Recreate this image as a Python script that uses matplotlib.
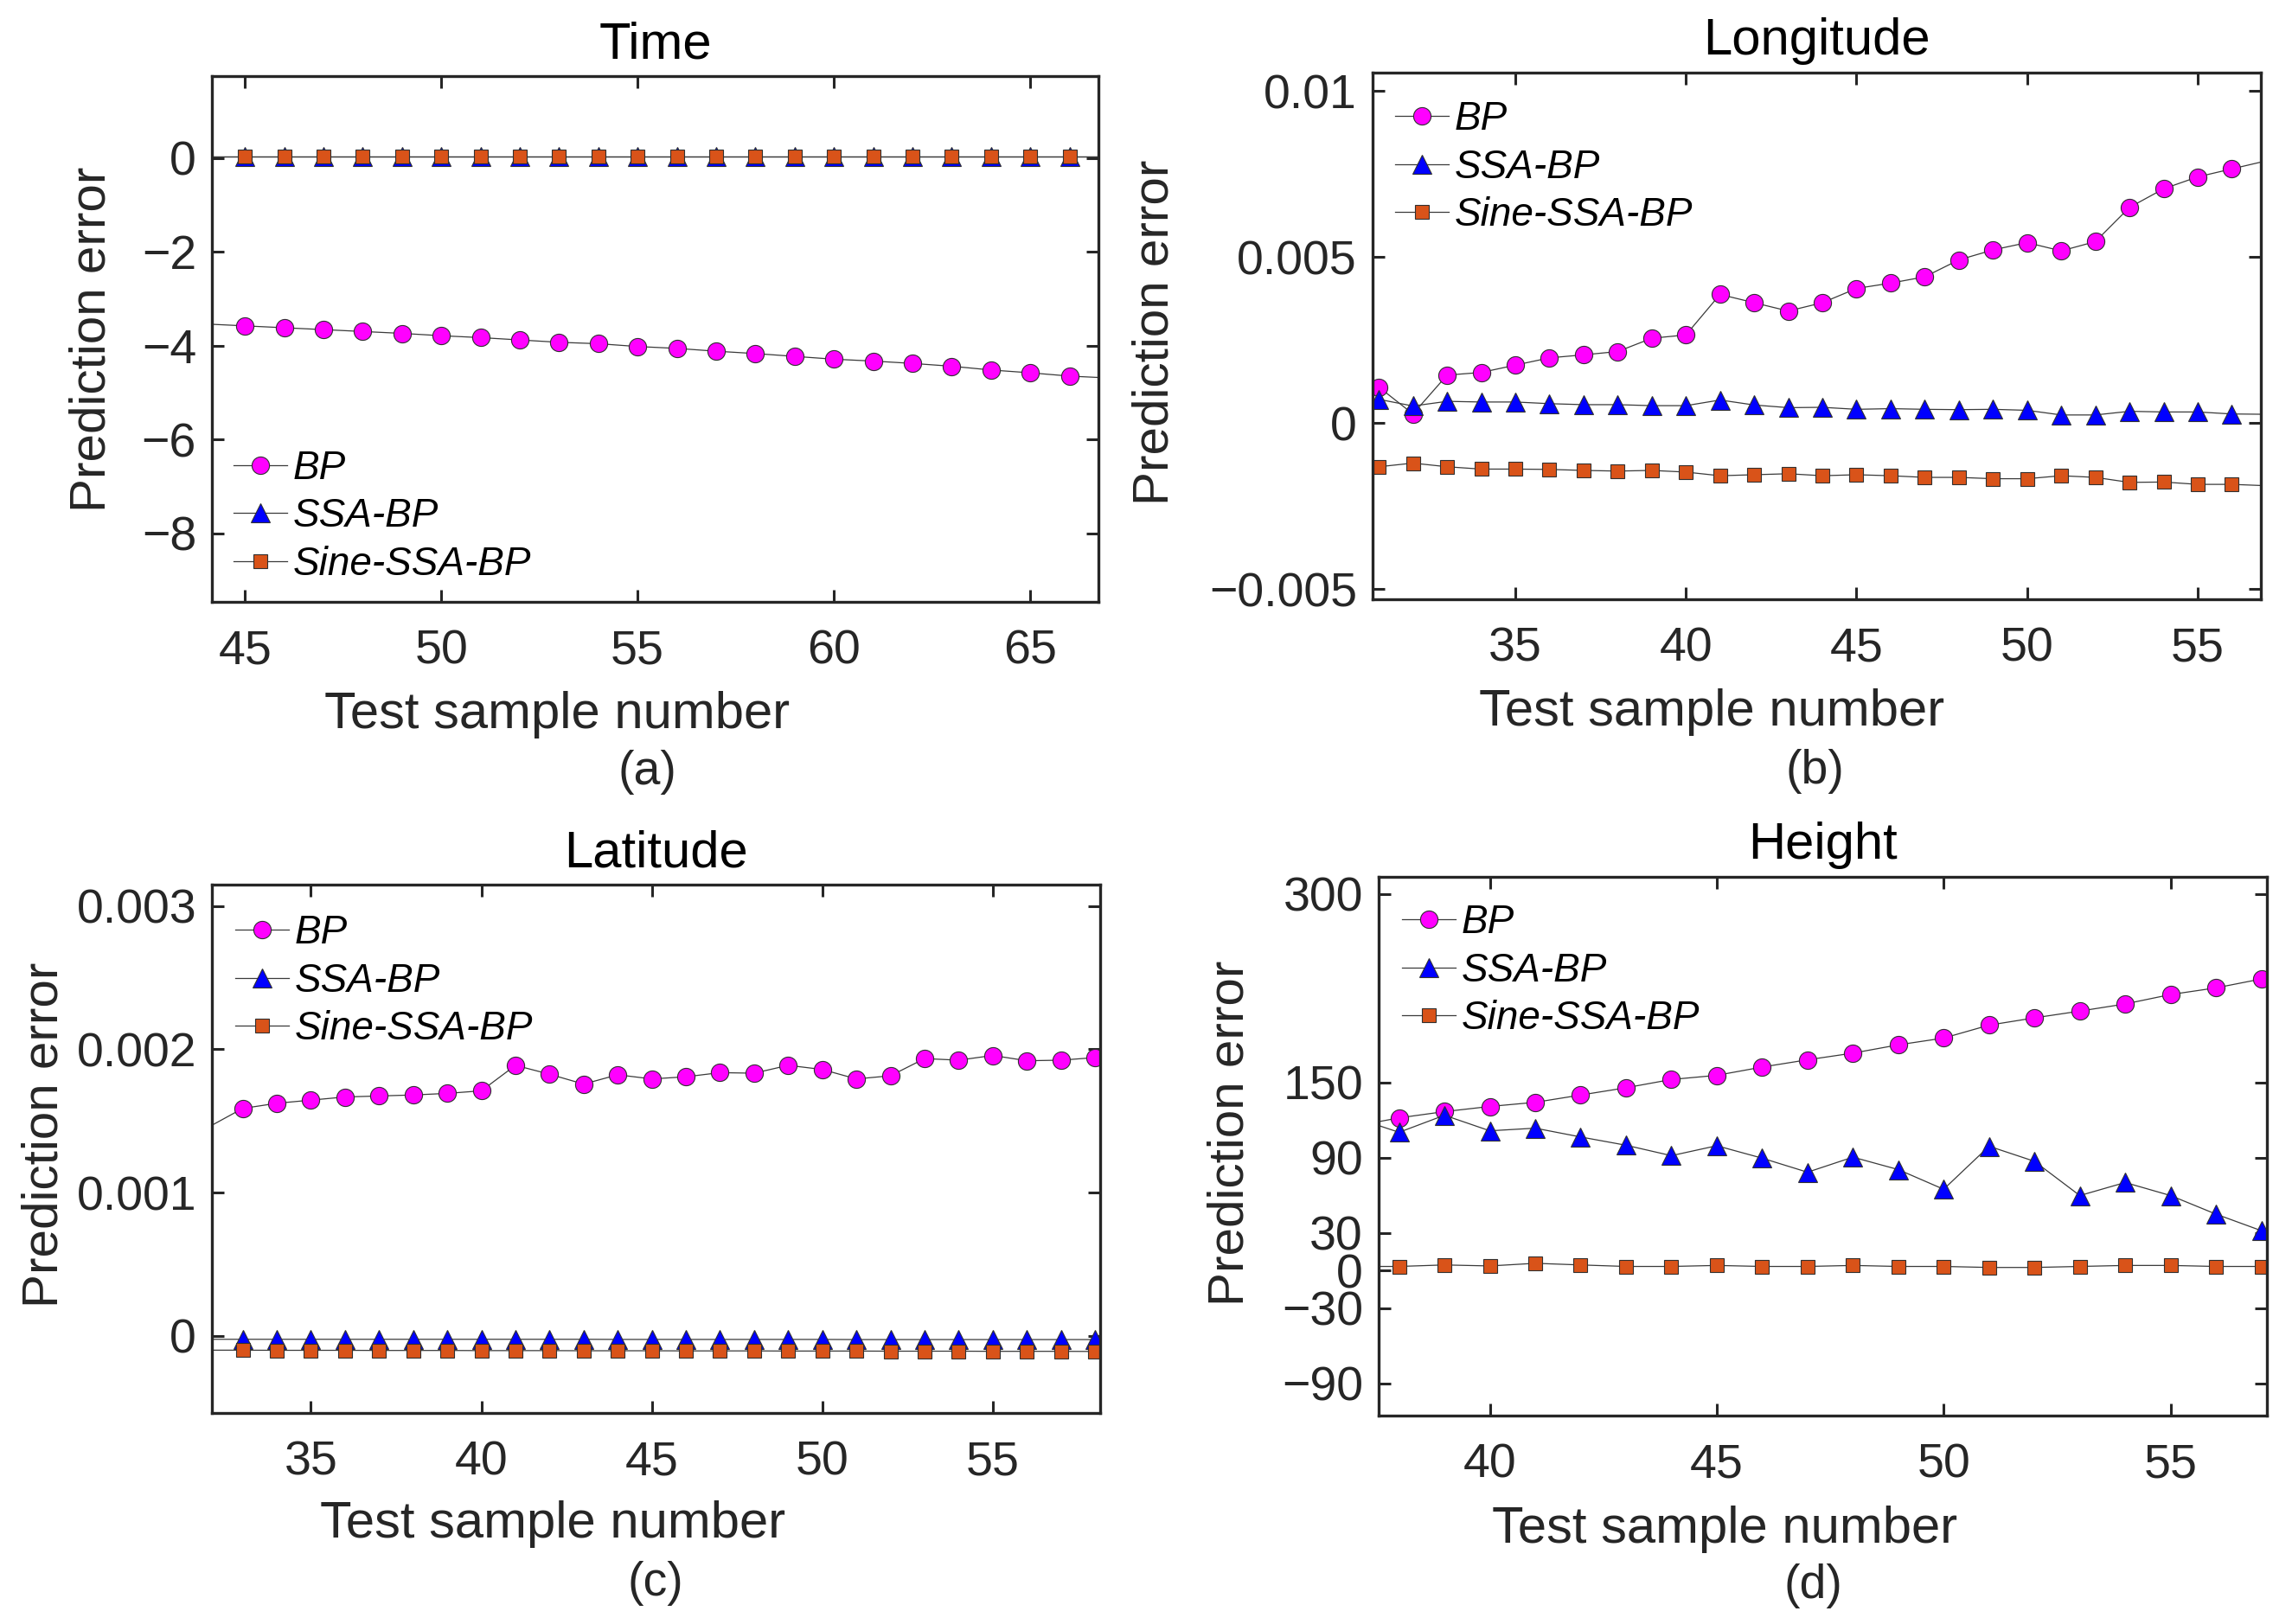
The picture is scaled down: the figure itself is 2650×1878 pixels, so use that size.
import numpy as np
import matplotlib
matplotlib.use("Agg")
import matplotlib.pyplot as plt

# ---- data ----
time_x = [44, 45, 46, 47, 48, 49, 50, 51, 52, 53, 54, 55, 56, 57, 58, 59, 60, 61, 62, 63, 64, 65, 66, 67]
time_bp = [-3.54, -3.58, -3.62, -3.66, -3.70, -3.74, -3.79, -3.83, -3.88, -3.93, -3.96, -4.02,
           -4.06, -4.12, -4.17, -4.23, -4.29, -4.33, -4.38, -4.44, -4.52, -4.58, -4.65, -4.69]
time_ssa = [0.03, 0.03, 0.03, 0.03, 0.03, 0.03, 0.03, 0.03, 0.03, 0.03, 0.03, 0.03,
            0.03, 0.03, 0.03, 0.03, 0.03, 0.03, 0.03, 0.03, 0.03, 0.03, 0.03, 0.03]
time_sine = [0.02, 0.02, 0.02, 0.02, 0.02, 0.02, 0.02, 0.02, 0.02, 0.02, 0.02, 0.02,
             0.02, 0.02, 0.02, 0.02, 0.02, 0.02, 0.02, 0.02, 0.02, 0.02, 0.02, 0.02]

lon_x = [31, 32, 33, 34, 35, 36, 37, 38, 39, 40, 41, 42, 43, 44, 45, 46, 47, 48, 49, 50,
         51, 52, 53, 54, 55, 56, 57]
lon_bp = [0.00109, 0.00028, 0.00145, 0.00153, 0.00175, 0.00197, 0.00206, 0.00216, 0.00256,
          0.00266, 0.00388, 0.00363, 0.00338, 0.00363, 0.00406, 0.00422, 0.00441, 0.00492,
          0.00522, 0.00544, 0.00519, 0.00547, 0.00650, 0.00706, 0.00742, 0.00766, 0.00790]
lon_ssa = [0.00072, 0.00052, 0.00066, 0.00064, 0.00064, 0.00059, 0.00056, 0.00056, 0.00053,
           0.00053, 0.00070, 0.00055, 0.00047, 0.00048, 0.00042, 0.00044, 0.00042, 0.00041,
           0.00042, 0.00039, 0.00025, 0.00025, 0.00036, 0.00034, 0.00034, 0.00028, 0.00027]
lon_sine = [-0.00131, -0.00120, -0.00131, -0.00138, -0.00138, -0.00139, -0.00142, -0.00144,
            -0.00142, -0.00147, -0.00158, -0.00155, -0.00152, -0.00158, -0.00155, -0.00158,
            -0.00163, -0.00163, -0.00167, -0.00167, -0.00158, -0.00163, -0.00178, -0.00177,
            -0.00184, -0.00184, -0.00188]

lat_x = [32, 33, 34, 35, 36, 37, 38, 39, 40, 41, 42, 43, 44, 45, 46, 47, 48, 49, 50, 51,
         52, 53, 54, 55, 56, 57, 58]
lat_bp = [0.001457, 0.001587, 0.001623, 0.001645, 0.001667, 0.001674, 0.001681, 0.001692,
          0.001710, 0.001888, 0.001826, 0.001757, 0.001822, 0.001793, 0.001808, 0.001837,
          0.001833, 0.001888, 0.001859, 0.001793, 0.001815, 0.001935, 0.001924, 0.001957,
          0.001920, 0.001924, 0.001942]
lat_ssa = [-0.000025, -0.000025, -0.000025, -0.000025, -0.000025, -0.000025, -0.000025,
           -0.000025, -0.000025, -0.000025, -0.000025, -0.000025, -0.000026, -0.000026,
           -0.000026, -0.000026, -0.000026, -0.000026, -0.000026, -0.000027, -0.000027,
           -0.000027, -0.000027, -0.000027, -0.000027, -0.000027, -0.000027]
lat_sine = [-0.000101, -0.000101, -0.000102, -0.000102, -0.000102, -0.000103, -0.000103,
            -0.000103, -0.000104, -0.000104, -0.000104, -0.000105, -0.000105, -0.000105,
            -0.000106, -0.000106, -0.000106, -0.000107, -0.000107, -0.000107, -0.000108,
            -0.000108, -0.000108, -0.000109, -0.000109, -0.000109, -0.000110]

h_x = [37, 38, 39, 40, 41, 42, 43, 44, 45, 46, 47, 48, 49, 50, 51, 52, 53, 54, 55, 56, 57]
h_bp = [115.0, 121.7, 126.7, 130.8, 134.1, 139.9, 145.7, 152.3, 155.6, 162.2, 168.0, 173.3,
        179.9, 185.3, 195.6, 201.4, 206.8, 212.5, 220.0, 225.3, 232.4]
h_ssa = [122.2, 110.2, 123.8, 111.4, 113.5, 106.5, 99.9, 91.6, 99.5, 89.6, 78.4, 90.4,
         80.5, 64.8, 99.1, 87.1, 59.8, 70.2, 59.8, 45.0, 31.8]
h_sine = [3.3, 3.3, 4.5, 3.7, 5.8, 4.5, 3.3, 3.3, 4.1, 3.3, 3.3, 4.1, 3.3, 3.3, 2.5, 2.5,
          3.3, 4.1, 4.1, 3.3, 3.3]

labels = ['BP', 'SSA-BP', 'Sine-SSA-BP']
titles = ['Time', 'Longitude', 'Latitude', 'Height']
captions = ['(a)', '(b)', '(c)', '(d)']

plt.rcParams['font.family'] = ['Liberation Sans', 'DejaVu Sans']
plt.rcParams['axes.unicode_minus'] = True

fig = plt.figure(figsize=(26.5, 18.78), dpi=100)

dark = '#262626'
line_col = '#3a3a3a'
edge_col = '#303030'

panels = [
    dict(rect=[0.0925, 0.6294, 0.3868, 0.3237], x=time_x, ys=[time_bp, time_ssa, time_sine],
         mk=slice(1, 23), xlim=(44.16, 66.74), ylim=(-9.46, 1.74),
         yticks=[-8, -6, -4, -2, 0], yticklabels=['\u22128', '\u22126', '\u22124', '\u22122', '0'],
         xticks=[45, 50, 55, 60, 65], leg=(0.0244, 0.29), ylab=(-0.109, 0.5), xlab=(0.389, -0.169)),
    dict(rect=[0.5989, 0.6310, 0.3875, 0.3243], x=lon_x, ys=[lon_bp, lon_ssa, lon_sine],
         mk=slice(0, 26), xlim=(30.82, 56.85), ylim=(-0.0053, 0.01056),
         yticks=[-0.005, 0, 0.005, 0.01], yticklabels=['\u22120.005', '0', '0.005', '0.01'],
         xticks=[35, 40, 45, 50, 55], leg=(0.0253, 0.947), ylab=(-0.219, 0.507), xlab=(0.382, -0.169)),
    dict(rect=[0.0925, 0.1299, 0.3875, 0.3254], x=lat_x, ys=[lat_bp, lat_ssa, lat_sine],
         mk=slice(1, 27), xlim=(32.1, 58.15), ylim=(-0.00054, 0.00315),
         yticks=[0, 0.001, 0.002, 0.003], yticklabels=['0', '0.001', '0.002', '0.003'],
         xticks=[35, 40, 45, 50, 55], leg=(0.026, 0.944), ylab=(-0.162, 0.527), xlab=(0.384, -0.165)),
    dict(rect=[0.6015, 0.1283, 0.3875, 0.3317], x=h_x, ys=[h_bp, h_ssa, h_sine],
         mk=slice(1, 21), xlim=(37.55, 57.12), ylim=(-115.6, 313.7),
         yticks=[-90, -30, 0, 30, 90, 150, 300],
         yticklabels=['\u221290', '\u221230', '0', '30', '90', '150', '300'],
         xticks=[40, 45, 50, 55], leg=(0.026, 0.95), ylab=(-0.141, 0.525), xlab=(0.39, -0.167)),
]

styles = [
    dict(marker='o', markersize=14.5, markerfacecolor='#ff00ff'),
    dict(marker='^', markersize=16.5, markerfacecolor='#0000ff'),
    dict(marker='s', markersize=12, markerfacecolor='#d95319'),
]

for i, p in enumerate(panels):
    ax = fig.add_axes(p['rect'])
    for ys, st, lab in zip(p['ys'], styles, labels):
        ax.plot(p['x'], ys, color=line_col, linewidth=0.9, markevery=p['mk'],
                markeredgecolor=edge_col, markeredgewidth=0.8, label=lab, **st)
    ax.set_xlim(*p['xlim'])
    ax.set_ylim(*p['ylim'])
    ax.set_xticks(p['xticks'])
    ax.set_yticks(p['yticks'])
    ax.set_yticklabels(p['yticklabels'])
    ax.tick_params(axis='both', which='both', direction='in', top=True, right=True,
                   length=10, width=2.2, color=dark, labelcolor=dark, labelsize=40)
    ax.tick_params(axis='x', pad=23)
    ax.tick_params(axis='y', pad=13)
    for sp in ax.spines.values():
        sp.set_linewidth(2.4)
        sp.set_color(dark)
    ax.set_title(titles[i], fontsize=43, pad=15, color='black')
    ax.set_xlabel('Test sample number', fontsize=43, color=dark)
    ax.set_ylabel('Prediction error', fontsize=42, color=dark)
    ax.xaxis.set_label_coords(*p['xlab'])
    ax.yaxis.set_label_coords(*p['ylab'])
    ax.legend(loc='upper left', bbox_to_anchor=p['leg'], frameon=False,
              prop={'family': 'Liberation Sans', 'style': 'italic', 'size': 33},
              handlelength=1.35, handletextpad=0.15, labelspacing=0.25,
              borderpad=0, borderaxespad=0)

cap_pos = [(0.2823, 0.5245), (0.7917, 0.525), (0.286, 0.025), (0.791, 0.0234)]
for c, (cx, cy) in zip(captions, cap_pos):
    fig.text(cx, cy, c, fontsize=40, ha='center', va='center', color=dark)

fig.savefig('out.png', dpi=100)
